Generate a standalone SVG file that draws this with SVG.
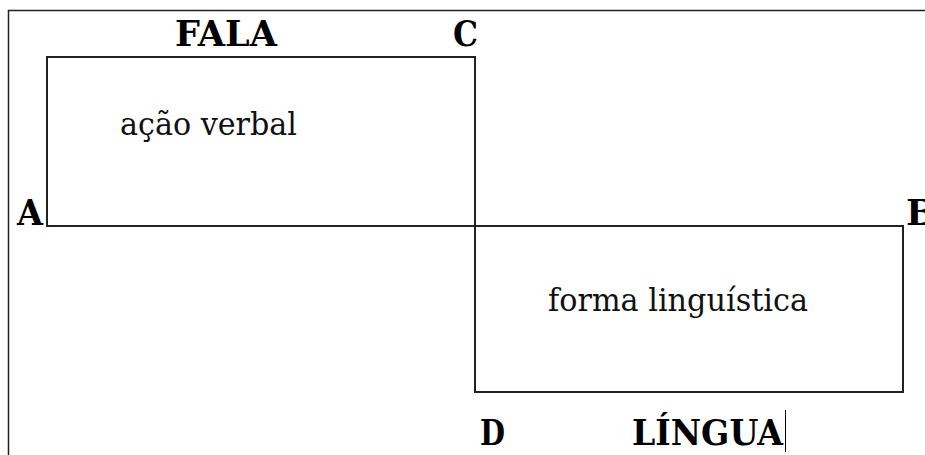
<svg xmlns="http://www.w3.org/2000/svg" width="925" height="455" viewBox="0 0 925 455">
  <style>
    .frame { fill: none; stroke: #222; stroke-width: 1.5; }
    .box { fill: none; stroke: #222; stroke-width: 2; }
    .lbl { font-family: "DejaVu Serif", "Liberation Serif", serif; font-weight: bold; font-size: 36px; fill: #000; }
    .txt { font-family: "DejaVu Serif", "Liberation Serif", serif; font-size: 32px; fill: #111; }
  </style>
  <rect width="925" height="455" fill="#fff"/>
  <!-- page frame -->
  <path class="frame" d="M8.5,455 V10.5 H925"/>
  <g id="fala">
    <rect class="box" x="47" y="57" width="428" height="169"/>
    <text class="lbl" x="175" y="46" textLength="102" lengthAdjust="spacingAndGlyphs">FALA</text>
    <text class="txt" x="120" y="135" textLength="177" lengthAdjust="spacingAndGlyphs">ação verbal</text>
  </g>
  <g id="lingua">
    <rect class="box" x="475" y="226" width="428" height="166"/>
    <text class="txt" x="548" y="311" textLength="260" lengthAdjust="spacingAndGlyphs">forma linguística</text>
    <text class="lbl" x="632" y="445" textLength="151" lengthAdjust="spacingAndGlyphs">LÍNGUA</text>
    <line x1="785.5" y1="410" x2="785.5" y2="452" stroke="#000" stroke-width="1"/>
  </g>
  <g id="points">
    <text class="lbl" x="17" y="225" textLength="26" lengthAdjust="spacingAndGlyphs">A</text>
    <text class="lbl" x="906" y="225">B</text>
    <text class="lbl" x="453" y="46" textLength="25" lengthAdjust="spacingAndGlyphs">C</text>
    <text class="lbl" x="480" y="445" textLength="25" lengthAdjust="spacingAndGlyphs">D</text>
  </g>
</svg>
